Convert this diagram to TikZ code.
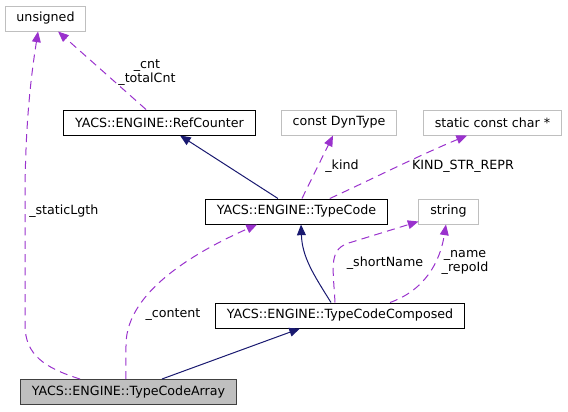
\documentclass[tikz,border=0pt]{standalone}
\usepackage{fontspec}
\setmainfont{DejaVu Sans}
\usetikzlibrary{arrows.meta}
\definecolor{edgeblue}{HTML}{191970}
\definecolor{edgepurple}{HTML}{9A32CD}
\definecolor{extgray}{HTML}{BFBFBF}

\begin{document}
\begin{tikzpicture}[x=0.75pt,y=-0.75pt]
    \tikzstyle{cls}=[rectangle,draw=black,line width=0.75pt,inner xsep=8.5pt,inner ysep=0pt,minimum height=18.75pt,font=\fontsize{9.5}{10.5}\selectfont]
    \tikzstyle{ext}=[cls,draw=extgray]
    \tikzstyle{cur}=[cls,draw=black!75,fill=extgray]
    \tikzstyle{lbl}=[align=center,inner sep=0pt,font=\fontsize{9.5}{10.5}\selectfont]
    \tikzstyle{inherit}=[edgeblue,line width=0.75pt,-{Triangle[length=8pt,width=6.6pt]}]
    \tikzstyle{usage}=[edgepurple,line width=0.75pt,dash pattern=on 6pt off 4pt,-{Triangle[length=8pt,width=6.6pt]}]
    \useasboundingbox (0,0) rectangle (568,411);
    \node (uns) at (45.5,18.5)  [ext] {unsigned};
    \node (rc)  at (159.5,122.5) [cls] {YACS::ENGINE::RefCounter};
    \node (dyn) at (339,122.5)  [ext] {const DynType};
    \node (scc) at (492.5,122.5) [ext] {static const char *};
    \node (tc)  at (296.5,211.5) [cls] {YACS::ENGINE::TypeCode};
    \node (str) at (448.5,211.5) [ext] {string};
    \node (tcc) at (340,315.5)  [cls] {YACS::ENGINE::TypeCodeComposed};
    \node (arr) at (128.5,392)  [cur] {YACS::ENGINE::TypeCodeArray};
    \draw [inherit] ([xshift=25.1pt]arr.north) -- ([xshift=-30pt]tcc.south);
    \draw [inherit] ([xshift=-6.75pt]tcc.north) to [out=122,in=-88] ([xshift=3.4pt]tc.south);
    \draw [inherit] ([xshift=-13.9pt]tc.north) -- ([xshift=15.4pt]rc.south);
    \draw [usage] ([xshift=-10.1pt]rc.north) -- ([xshift=9.4pt]uns.south);
    \draw [usage] ([xshift=-36.4pt]arr.north) .. controls (45,368) and (25,355) .. (25,325) -- (25,200) .. controls (25,120) and (32,70) .. ([xshift=-5.6pt]uns.south);
    \draw [usage] ([xshift=-1.9pt]arr.north) -- (126,345) .. controls (126,290) and (200,250) .. ([xshift=-29.6pt]tc.south);
    \draw [usage] ([xshift=4.1pt]tc.north) -- ([xshift=-4.5pt]dyn.south);
    \draw [usage] ([xshift=25pt]tc.north) .. controls (370,180) and (420,155) .. ([xshift=-19.1pt]scc.south);
    \draw [usage] ([xshift=-3.75pt]tcc.north) .. controls (333,265) and (328,248) .. (352,242) -- ([yshift=2.25pt]str.south west);
    \draw [usage] ([xshift=37.5pt]tcc.north) .. controls (425,290) and (440,262) .. ([xshift=-1.9pt]str.south);
    \node (lcnt)  at (147,73)  [lbl] {\_cnt\\\_totalCnt};
    \node (lstat) at (29,211)  [lbl,anchor=west] {\_staticLgth};
    \node (lcont) at (173,315) [lbl] {\_content};
    \node (lkind) at (342,166) [lbl] {\_kind};
    \node (lrepr) at (463,166) [lbl] {KIND\_STR\_REPR};
    \node (lshrt) at (385,263) [lbl] {\_shortName};
    \node (lname) at (465,262) [lbl] {\_name\\\_repoId};
\end{tikzpicture}
\end{document}
